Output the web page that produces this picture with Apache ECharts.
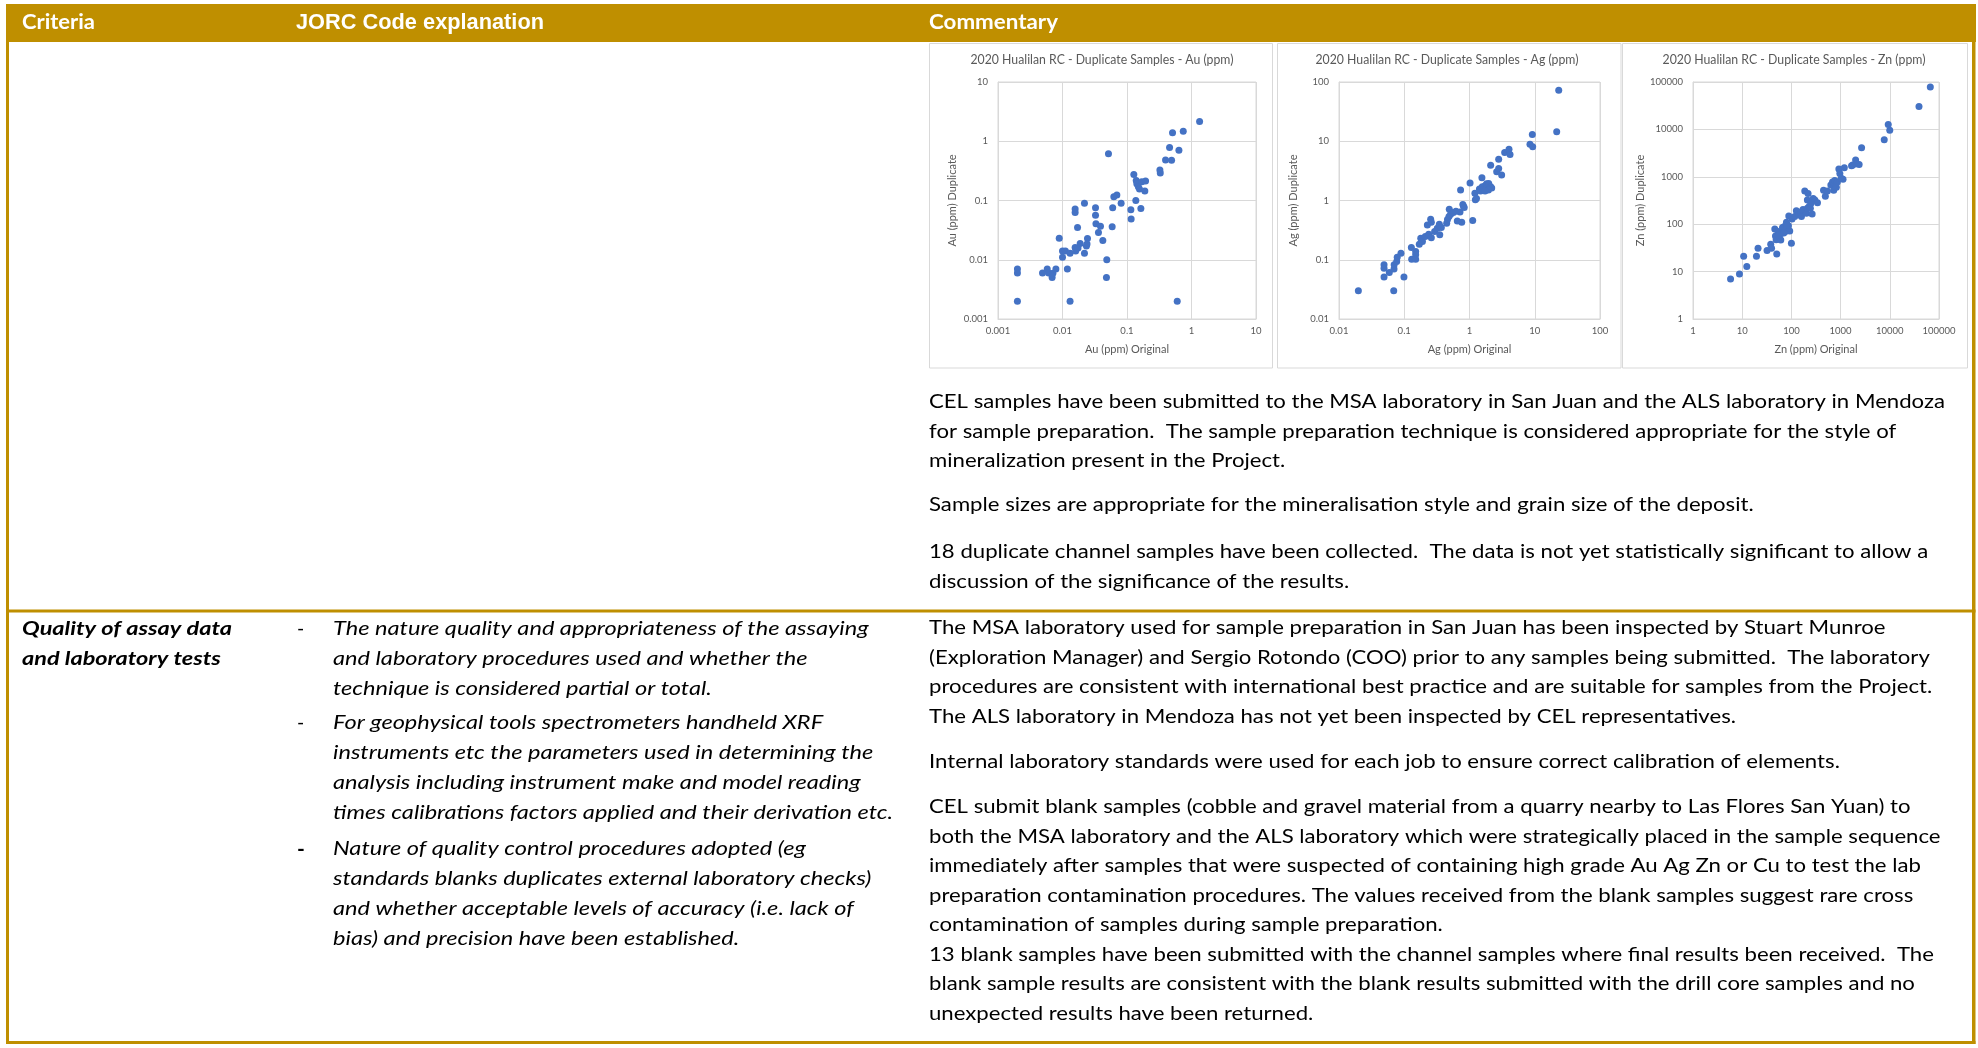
<!DOCTYPE html>
<html>
<head>
<meta charset="utf-8">
<script src="https://cdn.jsdelivr.net/npm/echarts@6/dist/echarts.min.js"></script>
<style>
html,body{margin:0;padding:0;background:#ffffff;overflow:hidden;}
#c{width:1978px;height:1048px;}
</style>
</head>
<body>
<div id="c"></div>
<script>
// ---------------- DATA ----------------
const auPoints = [
  [0.002,0.007],[0.002,0.006],[0.002,0.002],
  [0.0049,0.006],[0.0058,0.007],[0.0061,0.006],[0.0069,0.005],[0.0071,0.0059],[0.0079,0.007],
  [0.0089,0.023],[0.010,0.0141],[0.010,0.011],[0.0111,0.0141],[0.0119,0.007],[0.0131,0.002],[0.0131,0.0129],
  [0.0157,0.072],[0.0157,0.063],[0.0157,0.0161],[0.016,0.014],[0.0171,0.035],[0.0174,0.0158],[0.0188,0.0188],
  [0.0219,0.0895],[0.0219,0.0129],[0.0235,0.0171],[0.0244,0.0228],[0.024,0.0185],
  [0.0325,0.0757],[0.0325,0.0562],[0.033,0.0407],[0.0361,0.0288],[0.0388,0.0367],[0.0422,0.0211],
  [0.0486,0.01],[0.048,0.005],[0.0516,0.614],[0.0589,0.036],[0.06,0.0757],[0.0625,0.116],[0.0696,0.124],[0.0811,0.0895],
  [0.1148,0.07],[0.116,0.0489],[0.1276,0.275],[0.137,0.1],[0.139,0.218],[0.142,0.192],[0.15,0.171],[0.156,0.156],
  [0.17,0.208],[0.194,0.213],[0.189,0.145],[0.164,0.073],
  [0.3235,0.326],[0.328,0.29],[0.396,0.481],[0.491,0.48],[0.457,0.785],[0.508,1.39],[0.601,0.002],[0.638,0.708],
  [0.745,1.48],[1.335,2.15]
];
const agPoints = [
  [0.0198,0.030],[0.049,0.082],[0.049,0.072],[0.049,0.051],[0.059,0.061],[0.0697,0.0695],[0.07,0.082],[0.069,0.030],
  [0.0766,0.093],[0.078,0.110],[0.089,0.129],[0.099,0.051],
  [0.1285,0.1606],[0.13,0.102],[0.1496,0.138],[0.1496,0.121],[0.1496,0.102],[0.170,0.183],[0.179,0.231],[0.19,0.203],
  [0.21,0.246],[0.226,0.387],[0.237,0.27],[0.254,0.482],[0.26,0.43],[0.26,0.236],[0.292,0.299],[0.321,0.34],
  [0.345,0.397],[0.35,0.263],[0.37,0.35],
  [0.447,0.413],[0.46,0.48],[0.485,0.535],[0.49,0.71],[0.514,0.585],[0.565,0.63],[0.62,0.66],[0.65,0.452],
  [0.715,0.64],[0.73,1.5],[0.76,0.43],[0.79,0.86],[0.81,0.80],[0.83,0.76],
  [1.02,1.97],[1.12,0.458],[1.21,1.32],[1.23,1.03],[1.28,1.08],[1.42,1.56],[1.48,1.45],[1.55,2.42],[1.57,1.71],
  [1.63,1.5],[1.73,1.77],[1.83,1.92],[1.97,1.94],[2.11,1.71],[2.19,1.62],[1.95,1.5],[1.73,1.45],
  [2.11,3.95],[2.61,3.05],[2.8,3.48],[2.8,4.99],[3.11,2.69],[3.46,6.46],[4.03,7.36],[4.18,5.98],
  [8.45,8.94],[9.18,13.0],[9.3,8.05],[21.7,14.4],[23.3,72.4]
];
const znPoints = [
  [5.8,6.95],[8.8,8.85],[10.7,21.1],[12.4,12.8],[19.5,21],[21,31.2],[32,27.9],[38,37.9],[39.5,31],[46,79.4],[50.4,23.6],
  [47.5,56.6],[49,47],[53.7,69.8],[57,54.5],[60.8,46.5],[64.7,65.5],[69,75.6],[72,89],[75.6,69.8],[79.4,110],
  [83,82],[87,93],[92.5,71.5],[88.5,149],[103,128],[100,39.8],[55,60],[66,85],[80,95],[70,65],
  [117,145],[126,193],[142,158],[156,180],[160,145],[172,205],[187,501],[202,170],[211,218],[218,447],[229,235],
  [243,218],[264,165],[211,324],[277,350],[300,324],[339,284],[250,277],
  [450,518],[490,390],[540,500],[634,670],[685,780],[760,835],[725,520],[820,600],[860,780],[922,1456],[965,1170],
  [1030,930],[1120,890],[1190,1560],
  [1670,1710],[1770,1770],[2020,2250],[2120,1880],[2380,1820],[2670,4080],[7710,6030],[9300,12640],[9980,9620],
  [39200,30300],[66600,78500]
];
const chartTitles = [
  '2020 Hualilan RC - Duplicate Samples - Au (ppm)',
  '2020 Hualilan RC - Duplicate Samples - Ag (ppm)',
  '2020 Hualilan RC - Duplicate Samples - Zn (ppm)'
];
const xNames = ['Au (ppm) Original','Ag (ppm) Original','Zn (ppm) Original'];
const yNames = ['Au (ppm) Duplicate','Ag (ppm) Duplicate','Zn (ppm) Duplicate'];
const axisMin = [0.001, 0.01, 1];
const axisMax = [10, 100, 100000];

const headerLabels = ['Criteria','JORC Code explanation','Commentary'];
const criteriaLines = ['Quality of assay data','and laboratory tests'];
const jorcBullets = [
  ['The nature quality and appropriateness of the assaying',
   'and laboratory procedures used and whether the',
   'technique is considered partial or total.'],
  ['For geophysical tools spectrometers handheld XRF',
   'instruments etc the parameters used in determining the',
   'analysis including instrument make and model reading',
   'times calibrations factors applied and their derivation etc.'],
  ['Nature of quality control procedures adopted (eg',
   'standards blanks duplicates external laboratory checks)',
   'and whether acceptable levels of accuracy (i.e. lack of',
   'bias) and precision have been established.']
];
const commentaryParas = [
  ['CEL samples have been submitted to the MSA laboratory in San Juan and the ALS laboratory in Mendoza',
   'for sample preparation.  The sample preparation technique is considered appropriate for the style of',
   'mineralization present in the Project.'],
  ['Sample sizes are appropriate for the mineralisation style and grain size of the deposit.'],
  ['18 duplicate channel samples have been collected.  The data is not yet statistically significant to allow a',
   'discussion of the significance of the results.'],
  ['The MSA laboratory used for sample preparation in San Juan has been inspected by Stuart Munroe',
   '(Exploration Manager) and Sergio Rotondo (COO) prior to any samples being submitted.  The laboratory',
   'procedures are consistent with international best practice and are suitable for samples from the Project.',
   'The ALS laboratory in Mendoza has not yet been inspected by CEL representatives.'],
  ['Internal laboratory standards were used for each job to ensure correct calibration of elements.'],
  ['CEL submit blank samples (cobble and gravel material from a quarry nearby to Las Flores San Yuan) to',
   'both the MSA laboratory and the ALS laboratory which were strategically placed in the sample sequence',
   'immediately after samples that were suspected of containing high grade Au Ag Zn or Cu to test the lab',
   'preparation contamination procedures. The values received from the blank samples suggest rare cross',
   'contamination of samples during sample preparation.',
   '13 blank samples have been submitted with the channel samples where final results been received.  The',
   'blank sample results are consistent with the blank results submitted with the drill core samples and no',
   'unexpected results have been returned.']
];

// ---------------- LAYOUT ----------------
const GOLD = '#BF8F00';
const GRIDC = '#D9D9D9';
const AXC = '#595959';
const BLUE = '#4472C4';

const mctx = document.createElement('canvas').getContext('2d');
function tw(t, f) { mctx.font = f; return mctx.measureText(t).width; }

const gfx = [];
function rect(x, y, w, h, fill, stroke, lw, z) {
  gfx.push({type:'rect', silent:true, z: z||0,
    shape:{x:x, y:y, width:w, height:h},
    style: stroke ? {fill: fill||'transparent', stroke: stroke, lineWidth: lw||1} : {fill: fill}});
}
function txt(text, x, y, font, sx, fill, align) {
  gfx.push({type:'text', silent:true, z: 10, x: x, y: y, scaleX: sx || 1,
    style:{text: text, font: font, fill: fill || '#000000',
      textAlign: align || 'left', textVerticalAlign: 'middle',
      align: align || 'left', verticalAlign: 'middle'}});
}

// chart frames
rect(929.5, 43.5, 343, 324.5, '#ffffff', GRIDC, 1, -5);
rect(1277.5, 43.5, 343.5, 324.5, '#ffffff', GRIDC, 1, -5);
rect(1622.5, 43.5, 345, 324.5, '#ffffff', GRIDC, 1, -5);

// table structure
rect(6, 4, 1970, 38, GOLD, null, 0, 1);
rect(6, 4, 3, 1040, GOLD, null, 0, 1);
rect(1972, 4, 3.5, 1040, GOLD, null, 0, 1);
rect(6, 1041, 1969.5, 3, GOLD, null, 0, 1);
rect(6, 609.5, 1969.5, 3, GOLD, null, 0, 1);

// header
const fCrit = 'bold 20px Lato';
const fJorc = 'bold 22px "Liberation Sans"';
txt(headerLabels[0], 22, 23, fCrit, 73 / tw(headerLabels[0], fCrit), '#ffffff');
txt(headerLabels[1], 296, 23, fJorc, 248 / tw(headerLabels[1], fJorc), '#ffffff');
txt(headerLabels[2], 929, 23, fCrit, 129 / tw(headerLabels[2], fCrit), '#ffffff');

// column 1
const f1 = 'italic bold 19.5px Lato';
const s1 = 210 / tw(criteriaLines[0], f1);
criteriaLines.forEach((l, i) => txt(l, 22, 629 + i * 30, f1, s1));

// column 2
const f2 = 'italic 19.5px Lato';
const s2 = 560 / tw(jorcBullets[1][3], f2);
const bulletTops = [629, 723, 849];
jorcBullets.forEach((b, bi) => {
  txt('-', 297, bulletTops[bi], bi === 2 ? 'bold 21px Lato' : '19.5px Lato', 1);
  b.forEach((l, li) => txt(l, 333, bulletTops[bi] + li * 30, f2, s2));
});

// column 3
const f3 = '19.5px Lato';
const s3 = 1016 / tw(commentaryParas[0][0], f3);
const paraTops = [402, 505, 552, 628, 762, 807];
commentaryParas.forEach((p, pi) => {
  p.forEach((l, li) => txt(l, 929, paraTops[pi] + li * 29.5, f3, s3));
});

// chart titles
const titleX = [1102, 1447, 1794];
const fT = '13px Lato';
chartTitles.forEach((t, i) => {
  const s = 263 / tw(t, fT);
  gfx.push({type:'text', silent:true, z:10, x: titleX[i], y: 60, scaleX: s,
    style:{text:t, font:fT, fill:AXC, textAlign:'center', textVerticalAlign:'middle', align:'center', verticalAlign:'middle'}});
});

// grids
const grids = [
  {left: 998, top: 82, width: 258, height: 237},
  {left: 1339, top: 82, width: 261, height: 237},
  {left: 1693, top: 82, width: 246, height: 237}
].map(g => Object.assign(g, {show:true, borderColor:GRIDC, borderWidth:1, backgroundColor:'transparent'}));

function fmt(v) { return String(+(+v).toPrecision(6)); }

const xAxes = [], yAxes = [], series = [];
const allPts = [auPoints, agPoints, znPoints];
for (let i = 0; i < 3; i++) {
  xAxes.push({
    type:'log', logBase:10, gridIndex:i, min:axisMin[i], max:axisMax[i],
    axisLine:{show:true, lineStyle:{color:GRIDC, width:1}},
    axisTick:{show:false},
    axisLabel:{color:AXC, fontSize:9.5, fontFamily:'Lato', margin:7, formatter:fmt, showMinLabel:true, showMaxLabel:true},
    splitLine:{show:true, lineStyle:{color:GRIDC, width:1}},
    minorTick:{show:false}, minorSplitLine:{show:false},
    name:xNames[i], nameLocation:'middle', nameGap:25,
    nameTextStyle:{color:AXC, fontSize:11, fontFamily:'Lato'}
  });
  yAxes.push({
    type:'log', logBase:10, gridIndex:i, min:axisMin[i], max:axisMax[i],
    axisLine:{show:true, lineStyle:{color:GRIDC, width:1}},
    axisTick:{show:false},
    axisLabel:{color:AXC, fontSize:9.5, fontFamily:'Lato', margin:10, formatter:fmt, showMinLabel:true, showMaxLabel:true},
    splitLine:{show:true, lineStyle:{color:GRIDC, width:1}},
    name:yNames[i], nameLocation:'middle', nameGap:40, nameRotate:90,
    nameTextStyle:{color:AXC, fontSize:11, fontFamily:'Lato'}
  });
  series.push({
    type:'scatter', xAxisIndex:i, yAxisIndex:i, data:allPts[i],
    symbol:'circle', symbolSize:7, itemStyle:{color:BLUE, opacity:1},
    silent:true, animation:false
  });
}

const chart = echarts.init(document.getElementById('c'), null, {renderer:'canvas', width:1978, height:1048});
chart.setOption({
  animation:false,
  backgroundColor:'#ffffff',
  textStyle:{fontFamily:'Lato'},
  grid:grids,
  xAxis:xAxes,
  yAxis:yAxes,
  series:series,
  graphic:{elements:gfx}
});
</script>
</body>
</html>
